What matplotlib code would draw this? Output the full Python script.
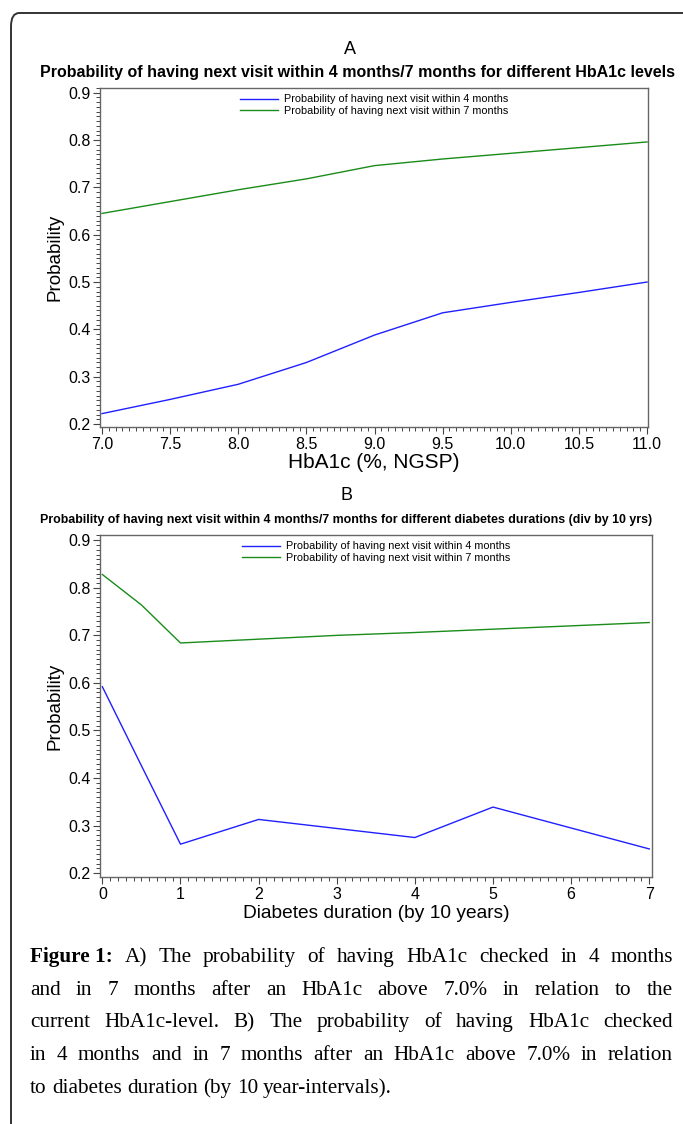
import numpy as np
import matplotlib
matplotlib.use("Agg")
import matplotlib.pyplot as plt
from matplotlib.patches import FancyBboxPatch
from matplotlib.ticker import MultipleLocator, FormatStrFormatter

plt.rcParams['font.family'] = ['Liberation Sans', 'DejaVu Sans']

# panel A: HbA1c levels
hba1c = [7.0, 7.5, 8.0, 8.5, 9.0, 9.5, 10.0, 10.5, 11.0]
a_4m = [0.222, 0.252, 0.284, 0.330, 0.388, 0.435, 0.457, 0.478, 0.500]
a_7m = [0.645, 0.670, 0.695, 0.718, 0.746, 0.760, 0.772, 0.784, 0.796]

# panel B: diabetes duration (by 10 years)
duration = [0, 0.5, 1, 2, 3, 4, 5, 6, 7]
b_4m = [0.592, 0.426, 0.261, 0.313, 0.294, 0.275, 0.339, 0.295, 0.251]
b_7m = [0.828, 0.764, 0.684, 0.692, 0.700, 0.706, 0.713, 0.720, 0.727]

lab_4m = "Probability of having next visit within 4 months"
lab_7m = "Probability of having next visit within 7 months"
title_a = "Probability of having next visit within 4 months/7 months for different HbA1c levels"
title_b = "Probability of having next visit within 4 months/7 months for different diabetes durations (div by 10 yrs)"

caption_bold = "Figure 1:"
caption_lines = [
    "A) The probability of having HbA1c checked in 4 months",
    "and in 7 months after an HbA1c above 7.0% in relation to the",
    "current HbA1c-level. B) The probability of having HbA1c checked",
    "in 4 months and in 7 months after an HbA1c above 7.0% in relation",
    "to diabetes duration (by 10 year-intervals).",
]

W, H = 683, 1124
fig = plt.figure(figsize=(W / 100, H / 100), dpi=100)

# rounded frame around the figure
frame = FancyBboxPatch((11 / W, -0.05), 1.2, 1 - 13 / H + 0.05,
                       boxstyle="round,pad=0,rounding_size=0.012",
                       transform=fig.transFigure, fill=False,
                       edgecolor='#333333', linewidth=1.4)
fig.patches.append(frame)


def style_axes(ax, xmin, xmax, xmaj, xmin_step, ymin, ymax):
    ax.set_xlim(xmin, xmax)
    ax.set_ylim(ymin, ymax)
    ax.xaxis.set_major_locator(MultipleLocator(xmaj))
    ax.xaxis.set_minor_locator(MultipleLocator(xmin_step))
    ax.yaxis.set_major_locator(MultipleLocator(0.1))
    ax.yaxis.set_minor_locator(MultipleLocator(0.01))
    ax.yaxis.set_major_formatter(FormatStrFormatter('%.1f'))
    for s in ax.spines.values():
        s.set_color('#666666')
        s.set_linewidth(1.0)
    ax.tick_params(which='major', length=5, width=0.8, color='#444444',
                   labelsize=11.5, pad=2)
    ax.tick_params(which='minor', length=3, width=0.7, color='#444444')
    ax.set_ylabel("Probability", fontsize=13.5, labelpad=3)
    ax.legend(loc='upper center', bbox_to_anchor=(0.5, 1.01), frameon=False,
              fontsize=7.8, handlelength=3.5, handletextpad=0.5,
              labelspacing=0.15)


# panel A
axa = fig.add_axes([100 / W, 1 - 427 / H, 548 / W, 339 / H])
axa.plot(hba1c, a_4m, color='#2020ff', lw=1.0, label=lab_4m)
axa.plot(hba1c, a_7m, color='#1a8c1a', lw=1.0, label=lab_7m)
style_axes(axa, 6.985, 11.007, 0.5, 0.05, 0.1937, 0.910)
axa.xaxis.set_major_formatter(FormatStrFormatter('%.1f'))
axa.set_xlabel("HbA1c (%, NGSP)", fontsize=15, labelpad=1)
fig.text(350 / W, 1 - 50 / H, "A", ha='center', va='center', fontsize=13)
fig.text(357 / W, 1 - 73 / H, title_a, ha='center', va='center',
         fontsize=11.5, fontweight='bold')

# panel B
axb = fig.add_axes([100 / W, 1 - 877 / H, 552 / W, 342 / H])
axb.plot(duration, b_4m, color='#2020ff', lw=1.0, label=lab_4m)
axb.plot(duration, b_7m, color='#1a8c1a', lw=1.0, label=lab_7m)
style_axes(axb, -0.03, 7.035, 1, 0.1, 0.192, 0.911)
axb.set_xlabel("Diabetes duration (by 10 years)", fontsize=13.8, labelpad=2)
fig.text(347 / W, 1 - 496 / H, "B", ha='center', va='center', fontsize=13)
fig.text(346 / W, 1 - 520 / H, title_b, ha='center', va='center',
         fontsize=8.9, fontweight='bold')

# caption, justified by hand
serif = ['Liberation Serif', 'DejaVu Serif']
cap_size = 15.3
x_left, x_right = 30, 673
baseline_y = [962, 995, 1027, 1060, 1093]
renderer = fig.canvas.get_renderer()


def text_width(s, bold=False):
    t = fig.text(0, 0, s, fontsize=cap_size, family=serif,
                 fontweight='bold' if bold else 'normal')
    w = t.get_window_extent(renderer).width
    t.remove()
    return w


for i, line in enumerate(caption_lines):
    words = [(w, False) for w in line.split(" ")]
    if i == 0:
        words = [(caption_bold, True)] + words
    widths = [text_width(w, b) for w, b in words]
    if i == len(caption_lines) - 1:
        gap = text_width("a b") - text_width("ab")
    else:
        gap = (x_right - x_left - sum(widths)) / (len(words) - 1)
    x = x_left
    y = 1 - baseline_y[i] / H
    for (w, b), wd in zip(words, widths):
        fig.text(x / W, y, w, fontsize=cap_size, family=serif,
                 fontweight='bold' if b else 'normal', va='baseline', ha='left')
        x += wd + gap

fig.savefig("out.png", dpi=100)
